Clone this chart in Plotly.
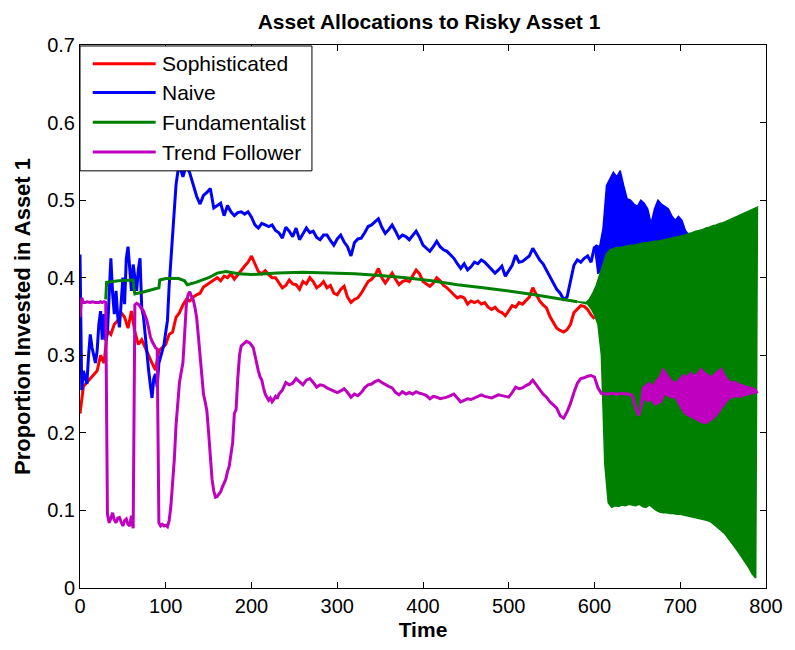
import plotly.graph_objects as go

# ---------------- data ----------------
# Sophisticated: sampled every 4 time steps from t=0
soph_start, soph_step = 0, 4
sophisticated = [
    0.225, 0.260, 0.265, 0.270, 0.275, 0.280, 0.300, 0.290, 0.332, 0.327,
    0.340, 0.345, 0.355, 0.349, 0.335, 0.357, 0.330, 0.314, 0.320, 0.310,
    0.298, 0.290, 0.281, 0.306, 0.310, 0.314, 0.327, 0.330, 0.349, 0.355,
    0.365, 0.372, 0.370, 0.375, 0.378, 0.380, 0.388, 0.391, 0.395, 0.398,
    0.400, 0.396, 0.402, 0.400, 0.405, 0.398, 0.404, 0.410, 0.415, 0.420,
    0.428, 0.418, 0.408, 0.405, 0.409, 0.404, 0.400, 0.400, 0.394, 0.387,
    0.390, 0.397, 0.392, 0.391, 0.385, 0.395, 0.392, 0.400, 0.395, 0.387,
    0.390, 0.395, 0.387, 0.390, 0.380, 0.378, 0.385, 0.389, 0.375, 0.368,
    0.372, 0.374, 0.380, 0.388, 0.395, 0.398, 0.403, 0.412, 0.400, 0.393,
    0.400, 0.406, 0.398, 0.391, 0.395, 0.397, 0.395, 0.403, 0.410, 0.405,
    0.395, 0.392, 0.389, 0.393, 0.400, 0.396, 0.390, 0.387, 0.382, 0.378,
    0.374, 0.376, 0.374, 0.366, 0.370, 0.368, 0.370, 0.366, 0.368, 0.362,
    0.359, 0.362, 0.357, 0.355, 0.351, 0.358, 0.364, 0.362, 0.368, 0.366,
    0.370, 0.375, 0.387, 0.378, 0.370, 0.365, 0.361, 0.350, 0.343, 0.335,
    0.332, 0.330, 0.333, 0.340, 0.355, 0.360, 0.364, 0.363, 0.359, 0.352,
    0.347,
]

# Naive: every 2 steps up to t=114, then every 4 steps; after t=600 it
# swings rapidly between the peak and trough values listed below
naive_early_start, naive_early_step = 0, 2
naive_early = [
    0.430, 0.255, 0.280, 0.270, 0.263, 0.300, 0.327, 0.310, 0.298, 0.290,
    0.306, 0.340, 0.357, 0.320, 0.353, 0.319, 0.330, 0.374, 0.425, 0.380,
    0.353, 0.383, 0.350, 0.336, 0.370, 0.400, 0.366, 0.425, 0.440, 0.410,
    0.383, 0.417, 0.400, 0.383, 0.410, 0.425, 0.361, 0.350, 0.327, 0.300,
    0.281, 0.262, 0.245, 0.270, 0.276, 0.259, 0.290, 0.298, 0.305, 0.314,
    0.330, 0.345, 0.390, 0.425, 0.460, 0.489, 0.520, 0.536,
]
naive_mid_start, naive_mid_step = 116, 4
naive_mid = [
    0.545, 0.530, 0.545, 0.535, 0.520, 0.505, 0.495, 0.506, 0.510, 0.515,
    0.490, 0.493, 0.496, 0.480, 0.493, 0.485, 0.480, 0.484, 0.485, 0.482,
    0.485, 0.478, 0.468, 0.464, 0.470, 0.468, 0.466, 0.468, 0.461, 0.458,
    0.451, 0.465, 0.460, 0.453, 0.464, 0.449, 0.457, 0.464, 0.458, 0.460,
    0.452, 0.449, 0.455, 0.455, 0.448, 0.442, 0.450, 0.455, 0.446, 0.440,
    0.428, 0.445, 0.450, 0.451, 0.458, 0.466, 0.468, 0.472, 0.476, 0.465,
    0.457, 0.462, 0.468, 0.460, 0.451, 0.455, 0.453, 0.449, 0.455, 0.460,
    0.452, 0.442, 0.438, 0.434, 0.440, 0.447, 0.440, 0.436, 0.434, 0.430,
    0.425, 0.418, 0.412, 0.418, 0.410, 0.414, 0.420, 0.418, 0.423, 0.420,
    0.415, 0.410, 0.406, 0.410, 0.415, 0.402, 0.410, 0.416, 0.429, 0.420,
    0.421, 0.424, 0.428, 0.438, 0.430, 0.423, 0.418, 0.410, 0.400, 0.394,
    0.385, 0.380, 0.372, 0.375, 0.395, 0.416, 0.423, 0.420, 0.425, 0.428,
    0.420, 0.440,
]
naive_hi_start, naive_lo_start, naive_osc_step = 602, 604, 4
naive_hi = [
    0.442, 0.440, 0.464, 0.519, 0.527, 0.536, 0.530, 0.538, 0.519, 0.502,
    0.500, 0.495, 0.492, 0.500, 0.496, 0.489, 0.470, 0.489, 0.500, 0.495,
    0.492, 0.489, 0.480, 0.474, 0.479, 0.474, 0.461, 0.455,
]
naive_lo = [
    0.405, 0.410, 0.415, 0.420, 0.422, 0.425, 0.426, 0.428, 0.428, 0.430,
    0.430, 0.431, 0.432, 0.433, 0.433, 0.434, 0.435, 0.435, 0.436, 0.437,
    0.437, 0.438, 0.438, 0.439, 0.440, 0.440, 0.441,
]

# Fundamentalist: piecewise readings, then rapid swings between the
# peak and trough values below
fund_t = [30, 31, 45, 62, 63, 64, 75, 92, 93, 100, 115, 122, 125, 135, 150,
          160, 170, 185, 200, 230, 260, 290, 320, 350, 380, 410, 440, 470,
          500, 530, 560, 580]
fund_v = [0.372, 0.394, 0.396, 0.397, 0.385, 0.379, 0.382, 0.387, 0.397,
          0.399, 0.399, 0.396, 0.391, 0.394, 0.400, 0.406, 0.408, 0.405,
          0.404, 0.406, 0.407, 0.406, 0.405, 0.403, 0.400, 0.396, 0.391,
          0.387, 0.383, 0.378, 0.373, 0.369]
fund_hi_start, fund_lo_start, fund_osc_step = 590, 592, 4
fund_hi = [
    0.368, 0.372, 0.380, 0.390, 0.404, 0.420, 0.431, 0.436, 0.438, 0.439,
    0.439, 0.440, 0.441, 0.442, 0.442, 0.443, 0.444, 0.445, 0.445, 0.446,
    0.447, 0.447, 0.448, 0.449, 0.450, 0.451, 0.452, 0.453, 0.454, 0.455,
    0.457, 0.458, 0.460, 0.461, 0.462, 0.464, 0.465, 0.467, 0.468, 0.470,
    0.471, 0.473, 0.475, 0.477, 0.479, 0.481, 0.483, 0.485, 0.487, 0.489,
    0.491,
]
fund_lo = [
    0.366, 0.360, 0.352, 0.340, 0.300, 0.160, 0.110, 0.104, 0.106, 0.105,
    0.107, 0.106, 0.108, 0.107, 0.106, 0.108, 0.105, 0.104, 0.107, 0.103,
    0.100, 0.098, 0.097, 0.097, 0.096, 0.096, 0.095, 0.095, 0.094, 0.093,
    0.092, 0.091, 0.090, 0.089, 0.088, 0.087, 0.085, 0.082, 0.078, 0.074,
    0.070, 0.064, 0.058, 0.052, 0.046, 0.040, 0.033, 0.026, 0.018, 0.013,
]

# Trend Follower: every 2 steps up to t=230, every 4 steps to t=652,
# then rapid swings between the peak and trough values below
trend_early_start, trend_early_step = 0, 2
trend_early = [
    0.349, 0.374, 0.368, 0.368, 0.369, 0.368, 0.368, 0.369, 0.368, 0.368,
    0.368, 0.368, 0.369, 0.368, 0.369, 0.368,
    0.095, 0.084, 0.090, 0.097, 0.088, 0.084, 0.090, 0.091, 0.085, 0.080,
    0.087, 0.089, 0.082, 0.080, 0.093, 0.077,
    0.365, 0.367, 0.366, 0.362, 0.360, 0.357, 0.352, 0.345, 0.335, 0.324,
    0.318, 0.314, 0.310, 0.308,
    0.084, 0.080, 0.082, 0.080, 0.081, 0.079, 0.087, 0.106, 0.135, 0.166,
    0.210, 0.243, 0.265, 0.278,
    0.290, 0.327, 0.365, 0.378, 0.382, 0.376, 0.372, 0.362, 0.349, 0.325,
    0.300, 0.270, 0.250, 0.240, 0.228, 0.200, 0.170, 0.140, 0.125, 0.117,
    0.118, 0.121, 0.124, 0.130, 0.135, 0.140, 0.150, 0.157, 0.172, 0.187,
    0.225, 0.230, 0.270, 0.300, 0.312, 0.314, 0.316, 0.318, 0.317, 0.316,
    0.313, 0.310, 0.300, 0.289, 0.280, 0.272, 0.268, 0.258, 0.250, 0.246,
    0.242, 0.245, 0.240, 0.243, 0.247, 0.244,
]
trend_mid_start, trend_mid_step = 232, 4
trend_mid = [
    0.250, 0.255, 0.265, 0.262, 0.264, 0.270, 0.266, 0.262, 0.268, 0.270,
    0.265, 0.259, 0.262, 0.261, 0.258, 0.256, 0.253, 0.252, 0.254, 0.257,
    0.252, 0.246, 0.250, 0.248, 0.252, 0.258, 0.262, 0.263, 0.266, 0.268,
    0.265, 0.262, 0.260, 0.258, 0.252, 0.249, 0.253, 0.250, 0.252, 0.250,
    0.253, 0.251, 0.250, 0.248, 0.244, 0.247, 0.246, 0.244, 0.245, 0.246,
    0.248, 0.250, 0.245, 0.240, 0.242, 0.244, 0.243, 0.245, 0.246, 0.249,
    0.247, 0.246, 0.245, 0.247, 0.249, 0.248, 0.247, 0.246, 0.252, 0.259,
    0.257, 0.258, 0.261, 0.263, 0.268, 0.262, 0.255, 0.250, 0.246, 0.240,
    0.236, 0.232, 0.222, 0.219, 0.227, 0.238, 0.252, 0.264, 0.270, 0.271,
    0.273, 0.274, 0.272, 0.258, 0.251, 0.250, 0.250, 0.251, 0.250, 0.250,
    0.251, 0.250, 0.250, 0.248, 0.232, 0.222,
]
trend_hi_start, trend_lo_start, trend_osc_step = 656, 658, 4
trend_hi = [
    0.258, 0.262, 0.265, 0.260, 0.268, 0.272, 0.283, 0.276, 0.270, 0.265,
    0.266, 0.270, 0.275, 0.272, 0.278, 0.274, 0.276, 0.283, 0.278, 0.275,
    0.272, 0.276, 0.280, 0.283, 0.274, 0.268, 0.265, 0.266, 0.263, 0.262,
    0.260, 0.259, 0.258, 0.256,
]
trend_lo = [
    0.245, 0.240, 0.243, 0.236, 0.238, 0.240, 0.250, 0.248, 0.245, 0.246,
    0.238, 0.230, 0.224, 0.222, 0.220, 0.218, 0.215, 0.213, 0.212, 0.215,
    0.218, 0.222, 0.228, 0.234, 0.240, 0.245, 0.246, 0.247, 0.246, 0.248,
    0.249, 0.250, 0.251, 0.252,
]

series_names = ["Sophisticated", "Naive", "Fundamentalist", "Trend Follower"]
series_colors = ["#ff0000", "#0000ff", "#008000", "#bf00bf"]

x_ticks = [0, 100, 200, 300, 400, 500, 600, 700, 800]
y_ticks = [0, 0.1, 0.2, 0.3, 0.4, 0.5, 0.6, 0.7]


# ---------------- helpers ----------------
def grid(start, step, values):
    return [start + step * i for i in range(len(values))]


def merge(*parts):
    """Merge (times, values) pieces into one series ordered by time."""
    pts = []
    for t, v in parts:
        pts.extend(zip(t, v))
    pts.sort(key=lambda p: p[0])
    return [p[0] for p in pts], [p[1] for p in pts]


def band(t0, v0, hi_t, hi, lo_t, lo):
    """Closed outline of a fast-oscillating stretch: from the last steady
    point along the peaks and back along the troughs."""
    xs = [t0] + list(hi_t) + list(lo_t)[::-1] + [t0]
    ys = [v0] + list(hi) + list(lo)[::-1] + [v0]
    return xs, ys


soph_t, soph_v = merge((grid(soph_start, soph_step, sophisticated), sophisticated))

naive_t, naive_v = merge(
    (grid(naive_early_start, naive_early_step, naive_early), naive_early),
    (grid(naive_mid_start, naive_mid_step, naive_mid), naive_mid),
)
naive_band = band(naive_t[-1], naive_v[-1],
                  grid(naive_hi_start, naive_osc_step, naive_hi), naive_hi,
                  grid(naive_lo_start, naive_osc_step, naive_lo), naive_lo)

fund_band = band(fund_t[-1], fund_v[-1],
                 grid(fund_hi_start, fund_osc_step, fund_hi), fund_hi,
                 grid(fund_lo_start, fund_osc_step, fund_lo), fund_lo)

trend_t, trend_v = merge(
    (grid(trend_early_start, trend_early_step, trend_early), trend_early),
    (grid(trend_mid_start, trend_mid_step, trend_mid), trend_mid),
)
trend_band = band(trend_t[-1], trend_v[-1],
                  grid(trend_hi_start, trend_osc_step, trend_hi), trend_hi,
                  grid(trend_lo_start, trend_osc_step, trend_lo), trend_lo)

steady = [(soph_t, soph_v), (naive_t, naive_v), (fund_t, fund_v), (trend_t, trend_v)]
bands = [None, naive_band, fund_band, trend_band]

# ---------------- figure ----------------
W, H = 795, 650
ML, MR, MT, MB = 80, 17, 45, 57
PW, PH = W - ML - MR, H - MT - MB
FONT = "Liberation Sans, Arial, Helvetica, sans-serif"
LW = 3

fig = go.Figure()
for (t, v), bnd, name, color in zip(steady, bands, series_names, series_colors):
    fig.add_trace(go.Scatter(
        x=t, y=v, mode="lines", name=name,
        line=dict(color=color, width=LW), showlegend=False,
    ))
    if bnd is not None:
        fig.add_trace(go.Scatter(
            x=bnd[0], y=bnd[1], mode="lines", name=name, fill="toself",
            fillcolor=color, line=dict(color=color, width=1.5),
            showlegend=False, hoverinfo="skip",
        ))

axis_common = dict(
    showgrid=False, zeroline=False, showline=True, linecolor="black",
    linewidth=1, mirror="ticks", ticks="inside", ticklen=6, tickwidth=1,
    tickcolor="black", tickfont=dict(family=FONT, size=20, color="black"),
)
fig.update_xaxes(range=[0, 800], tickvals=x_ticks,
                 title=dict(text="<b>Time</b>", font=dict(family=FONT, size=21, color="black"), standoff=6),
                 **axis_common)
fig.update_yaxes(range=[0, 0.7], tickvals=y_ticks,
                 ticktext=[f"{v:g}" for v in y_ticks],
                 title=dict(text="<b>Proportion Invested in Asset 1</b>", font=dict(family=FONT, size=22, color="black"), standoff=10),
                 **axis_common)


# legend box laid out in pixel units relative to the plot area
def px_x(px):
    return (px - ML) / PW


def px_y(py):
    return 1 - (py - MT) / PH


shapes = [dict(type="rect", xref="paper", yref="paper",
               x0=px_x(80), x1=px_x(316), y0=px_y(172), y1=px_y(46),
               line=dict(color="black", width=1), fillcolor="white", layer="above")]
annotations = []
row_y = [64, 93, 123, 153]
for name, color, ry in zip(series_names, series_colors, row_y):
    shapes.append(dict(type="line", xref="paper", yref="paper",
                       x0=px_x(93), x1=px_x(157), y0=px_y(ry), y1=px_y(ry),
                       line=dict(color=color, width=3), layer="above"))
    annotations.append(dict(xref="paper", yref="paper", x=px_x(161), y=px_y(ry),
                            text=name, showarrow=False, xanchor="left", yanchor="middle",
                            font=dict(family=FONT, size=21, color="black")))

fig.update_layout(
    width=W, height=H,
    margin=dict(l=ML, r=MR, t=MT, b=MB),
    paper_bgcolor="white", plot_bgcolor="white",
    title=dict(text="<b>Asset Allocations to Risky Asset 1</b>",
               font=dict(family=FONT, size=21, color="black"),
               x=(ML + PW / 2) / W, xanchor="center", y=1 - 22 / H, yanchor="middle"),
    shapes=shapes, annotations=annotations, showlegend=False,
)

fig.write_html("out.html")
